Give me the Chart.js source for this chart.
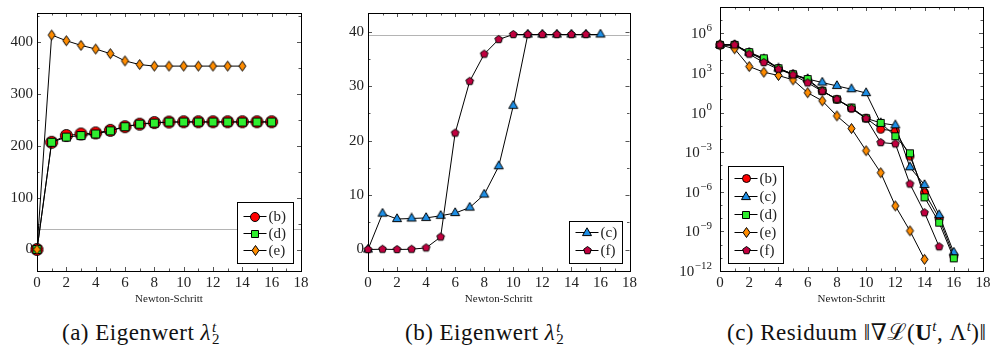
<!DOCTYPE html>
<html>
<head>
<meta charset="utf-8">
<script src="https://cdn.jsdelivr.net/npm/chart.js@4.4.0/dist/chart.umd.min.js"></script>
<style>
  body { margin: 0; background: #fff; }
  #wrap { position: relative; width: 996px; height: 358px; background: #fff; overflow: hidden; font-family: 'Liberation Serif', 'DejaVu Serif', 'Noto Serif', 'FreeSerif', 'Nimbus Roman', 'Tinos', serif; }
  canvas { position: absolute; top: 0; }
  .cap { position: absolute; top: 321px; font-size: 23px; letter-spacing: 0.5px; line-height: 24px; color: #111; white-space: nowrap; }
  .ss { display: inline-flex; flex-direction: column; font-size: 15px; line-height: 12px; vertical-align: 8px; margin-left: 1px; letter-spacing: 0; }
  .cap sup { font-size: 15px; line-height: 0; }
</style>
</head>
<body>
<div id="wrap">
  <canvas id="c1" width="320" height="310" style="left:0px"></canvas>
  <canvas id="c2" width="310" height="310" style="left:330px"></canvas>
  <canvas id="c3" width="341" height="310" style="left:655px"></canvas>
  <div class="cap" style="left:62px">(a) Eigenwert <i>λ</i><span class="ss"><i>t</i><span>2</span></span></div>
  <div class="cap" style="left:405px">(b) Eigenwert <i>λ</i><span class="ss"><i>t</i><span>2</span></span></div>
  <div class="cap" style="left:727px">(c) Residuum ‖∇<i>ℒ</i>(<b>U</b><sup><i>t</i></sup>, Λ<sup><i>t</i></sup>)‖</div>
</div>
<script>
const FONT = "'Liberation Serif', 'DejaVu Serif', 'Noto Serif', 'FreeSerif', 'Nimbus Roman', 'Tinos', serif";

// Newton-Schritt
const steps = [0, 1, 2, 3, 4, 5, 6, 7, 8, 9, 10, 11, 12, 13, 14, 15, 16];
const xTicks = [0, 2, 4, 6, 8, 10, 12, 14, 16, 18];
const xMinor = [1, 3, 5, 7, 9, 11, 13, 15, 17];

// (a) Eigenwert
const aB = [0, 207, 220, 223, 225, 230, 237, 242, 245, 246, 246.5, 246.5, 246.5, 246.5, 246.5, 246.5, 246.5];
const aD = [0, 207, 217, 220, 223, 229, 237, 242, 244, 246, 246, 246, 246, 246, 246, 246, 246];
const aE = [0, 414, 403, 394, 387, 378, 364, 357, 354, 354, 354, 354, 354, 354, 354];
const aTicks = [0, 100, 200, 300, 400];
const aMinor = [50, 150, 250, 350, 450];

// (b) Eigenwert
const bC = [0, 6.6, 5.6, 5.7, 5.8, 6.2, 6.7, 7.7, 10.1, 15.3, 26.4, 39.5, 39.5, 39.5, 39.5, 39.5, 39.5];
const bF = [0, 0.05, 0, 0.05, 0.3, 2.3, 21.4, 30.9, 35.9, 38.6, 39.5, 39.5, 39.5, 39.5, 39.5, 39.5];
const bTicks = [0, 10, 20, 30, 40];
const bMinor = [5, 15, 25, 35];

// horizontal reference line in (a) and (b)
const refValue = 39.5;

// (c) Residuum
const cB = [1.35e5, 1.35e5, 3.5e4, 1.0e4, 2.2e3, 800, 280, 45, 10, 2.2, 0.38, 0.055, 0.041, 5e-4, 8.7e-7, 9.8e-9, 1.4e-11];
const cC = [1.35e5, 1.35e5, 3.5e4, 1.1e4, 2.2e3, 760, 350, 190, 105, 59, 30, 0.16, 0.11, 7.2e-5, 3.3e-6, 1.7e-8, 2.5e-11];
const cD = [1.35e5, 1.35e5, 3.8e4, 1.3e4, 2.3e3, 800, 350, 45, 10, 2.4, 0.37, 0.166, 0.016, 8.3e-4, 3.8e-7, 4.6e-9, 9.1e-12];
const cE = [1.35e5, 6.8e4, 3.1e3, 1.15e3, 650, 300, 32, 7.8, 0.56, 0.062, 1.3e-3, 2.8e-5, 8.5e-8, 1.1e-9, 7.6e-12];
const cF = [1.35e5, 1.35e5, 2.7e4, 6.2e3, 1.95e3, 720, 180, 42, 10.2, 2.0, 0.35, 5.4e-3, 4.3e-3, 3.9e-6, 2.6e-8, 6.9e-11];
const cTicks = [1e-12, 1e-9, 1e-6, 1e-3, 1, 1e3, 1e6];
const cMinor = [1e-11, 1e-10, 1e-8, 1e-7, 1e-5, 1e-4, 1e-2, 1e-1, 10, 100, 1e4, 1e5, 1e7];

const RED = '#ff0000', BLUE = '#1e8fe6', GREEN = '#2fee2f', ORANGE = '#ff8c00', CRIMSON = '#c1003f';

function marker(shape, w, h, fill) {
  const c = document.createElement('canvas');
  const s = Math.ceil(Math.max(w, h)) + 3;
  c.width = s; c.height = s;
  const g = c.getContext('2d');
  const cx = s / 2, cy = s / 2;
  g.beginPath();
  if (shape === 'circle') {
    g.arc(cx, cy, w / 2, 0, Math.PI * 2);
  } else if (shape === 'square') {
    g.rect(cx - w / 2, cy - h / 2, w, h);
  } else if (shape === 'diamond') {
    g.moveTo(cx, cy - h / 2); g.lineTo(cx + w / 2, cy); g.lineTo(cx, cy + h / 2); g.lineTo(cx - w / 2, cy); g.closePath();
  } else if (shape === 'triangle') {
    const r = w / Math.sqrt(3);
    g.moveTo(cx, cy - r); g.lineTo(cx + w / 2, cy + r / 2); g.lineTo(cx - w / 2, cy + r / 2); g.closePath();
  } else if (shape === 'pentagon') {
    for (let k = 0; k < 5; k++) {
      const a = -Math.PI / 2 + k * 2 * Math.PI / 5;
      const px = cx + Math.cos(a) * w / 2, py = cy + Math.sin(a) * w / 2;
      if (k === 0) g.moveTo(px, py); else g.lineTo(px, py);
    }
    g.closePath();
  }
  g.fillStyle = fill;
  g.fill();
  g.lineWidth = 1;
  g.strokeStyle = '#000';
  g.stroke();
  return c;
}

function series(vals, img, order) {
  return {
    data: vals.map((v, i) => ({ x: steps[i], y: v })),
    borderColor: '#000',
    borderWidth: 1,
    pointStyle: img,
    pointRadius: 5,
    pointHoverRadius: 5,
    clip: false,
    order: order
  };
}

const frame = {
  id: 'frame',
  beforeDatasetsDraw(chart, args, o) {
    const ctx = chart.ctx;
    const { left, right, top, bottom } = chart.chartArea;
    const xs = chart.scales.x, ys = chart.scales.y;
    ctx.save();
    ctx.lineWidth = 1;
    if (o.ref != null) {
      const y = Math.round(ys.getPixelForValue(o.ref)) + 0.5;
      ctx.strokeStyle = '#b4b4b4';
      ctx.beginPath(); ctx.moveTo(left, y); ctx.lineTo(right, y); ctx.stroke();
    }
    ctx.strokeStyle = '#555';
    ctx.beginPath();
    const xt = (vals, len) => vals.forEach(v => {
      const x = Math.round(xs.getPixelForValue(v)) + 0.5;
      ctx.moveTo(x, bottom); ctx.lineTo(x, bottom - len);
      ctx.moveTo(x, top); ctx.lineTo(x, top + len);
    });
    const yt = (vals, len) => vals.forEach(v => {
      const y = Math.round(ys.getPixelForValue(v)) + 0.5;
      ctx.moveTo(left, y); ctx.lineTo(left + len, y);
      ctx.moveTo(right, y); ctx.lineTo(right - len, y);
    });
    xt(xTicks, 4); xt(xMinor, 2.5);
    yt(o.yMajor, 4); yt(o.yMinor, 2.5);
    ctx.stroke();
    ctx.strokeStyle = '#000';
    ctx.strokeRect(Math.round(left) + 0.5, Math.round(top) + 0.5, Math.round(right - left), Math.round(bottom - top));

    if (o.logLabels) {
      const xEnd = left - 8;
      ctx.fillStyle = '#222';
      ctx.textBaseline = 'middle';
      o.yMajor.forEach(v => {
        const y = ys.getPixelForValue(v);
        const e = Math.round(Math.log10(v));
        const es = e < 0 ? '\u2212' + (-e) : String(e);
        ctx.font = '11px ' + FONT;
        const ew = ctx.measureText(es).width;
        ctx.textAlign = 'left';
        ctx.fillText(es, xEnd - ew, y - 5);
        ctx.font = '15px ' + FONT;
        ctx.textAlign = 'right';
        ctx.fillText('10', xEnd - ew - 0.5, y + 1);
      });
    }
    ctx.restore();
  },
  afterDatasetsDraw(chart, args, o) {
    const L = o.legend;
    if (!L) return;
    const ctx = chart.ctx;
    const { left, right, bottom } = chart.chartArea;
    const bx = Math.round(L.corner === 'br' ? right - L.dx - L.w : left + L.dx) + 0.5;
    const by = Math.round(bottom - L.dy - L.h) + 0.5;
    ctx.save();
    ctx.fillStyle = '#fff';
    ctx.fillRect(bx, by, L.w, L.h);
    ctx.strokeStyle = '#000';
    ctx.lineWidth = 1;
    ctx.strokeRect(bx, by, L.w, L.h);
    ctx.font = '15px ' + FONT;
    ctx.textBaseline = 'middle';
    ctx.textAlign = 'left';
    L.items.forEach((it, i) => {
      const cy = Math.round(by + L.pad + i * L.row) + 0.5;
      ctx.beginPath(); ctx.moveTo(bx + 6, cy); ctx.lineTo(bx + 29, cy); ctx.stroke();
      ctx.drawImage(it.img, Math.round(bx + 17.5 - it.img.width / 2), Math.round(cy - it.img.height / 2));
      ctx.fillStyle = '#222';
      ctx.fillText(it.label, bx + 31, cy + 1);
    });
    ctx.restore();
  }
};

function makeChart(id, datasets, yScale, frameOpts, padRight, yWidth) {
  return new Chart(document.getElementById(id), {
    type: 'line',
    data: { datasets },
    options: {
      responsive: false,
      animation: false,
      devicePixelRatio: 1,
      events: [],
      layout: { padding: { top: 7, right: padRight, left: 0, bottom: 0 } },
      plugins: { legend: { display: false }, tooltip: { enabled: false }, frame: frameOpts },
      scales: {
        x: {
          type: 'linear', min: 0, max: 18,
          grid: { display: false, drawTicks: false },
          border: { display: false },
          afterBuildTicks: s => { s.ticks = xTicks.map(v => ({ value: v })); },
          afterFit: s => { s.height = 39; },
          ticks: { font: { family: FONT, size: 15 }, color: '#222', padding: 3, maxRotation: 0, autoSkip: false },
          title: { display: true, text: 'Newton-Schritt', font: { family: FONT, size: 11 }, color: '#222', padding: { top: 0, bottom: 4 } }
        },
        y: Object.assign({
          grid: { display: false, drawTicks: false },
          border: { display: false },
          afterFit: s => { s.width = yWidth; }
        }, yScale)
      }
    },
    plugins: [frame]
  });
}

// (a)
const mA = {
  b: marker('circle', 12, 12, RED), d: marker('square', 8, 8, GREEN), e: marker('diamond', 7, 10, ORANGE),
  bl: marker('circle', 9, 9, RED), dl: marker('square', 7, 7, GREEN), el: marker('diamond', 7, 10, ORANGE)
};
makeChart('c1',
  [series(aB, mA.b, 3), series(aD, mA.d, 2), series(aE, mA.e, 1)],
  {
    min: -41.5, max: 456.5,
    afterBuildTicks: s => { s.ticks = aTicks.map(v => ({ value: v })); },
    ticks: { font: { family: FONT, size: 15 }, color: '#222', padding: 4 }
  },
  {
    ref: refValue, yMajor: aTicks, yMinor: aMinor,
    legend: { corner: 'br', dx: 8, dy: 8, w: 56, h: 61, pad: 13, row: 17,
      items: [{ img: mA.bl, label: '(b)' }, { img: mA.dl, label: '(d)' }, { img: mA.el, label: '(e)' }] }
  }, 19, 37);

// (b)
const mB = { c: marker('triangle', 9, 8, BLUE), f: marker('pentagon', 8, 8, CRIMSON) };
makeChart('c2',
  [series(bC, mB.c, 2), series(bF, mB.f, 1)],
  {
    min: -3.95, max: 43.45,
    afterBuildTicks: s => { s.ticks = bTicks.map(v => ({ value: v })); },
    ticks: { font: { family: FONT, size: 15 }, color: '#222', padding: 4 }
  },
  {
    ref: refValue, yMajor: bTicks, yMinor: bMinor,
    legend: { corner: 'br', dx: 8, dy: 8, w: 53, h: 42, pad: 10, row: 18,
      items: [{ img: mB.c, label: '(c)' }, { img: mB.f, label: '(f)' }] }
  }, 8, 38);

// (c)
const mC = {
  b: marker('circle', 8, 8, RED), c: marker('triangle', 9, 8, BLUE), d: marker('square', 7, 7, GREEN),
  e: marker('diamond', 7, 10, ORANGE), f: marker('pentagon', 8, 8, CRIMSON)
};
makeChart('c3',
  [series(cB, mC.b, 5), series(cC, mC.c, 4), series(cD, mC.d, 3), series(cE, mC.e, 2), series(cF, mC.f, 1)],
  {
    type: 'logarithmic', min: 1e-12, max: 1e8,
    afterBuildTicks: s => { s.ticks = cTicks.map(v => ({ value: v })); },
    ticks: { display: false }
  },
  {
    yMajor: cTicks, yMinor: cMinor, logLabels: true,
    legend: { corner: 'bl', dx: 8, dy: 8, w: 55, h: 97, pad: 11, row: 18,
      items: [{ img: mC.b, label: '(b)' }, { img: mC.c, label: '(c)' }, { img: mC.d, label: '(d)' },
              { img: mC.e, label: '(e)' }, { img: mC.f, label: '(f)' }] }
  }, 13, 65);
</script>
</body>
</html>
